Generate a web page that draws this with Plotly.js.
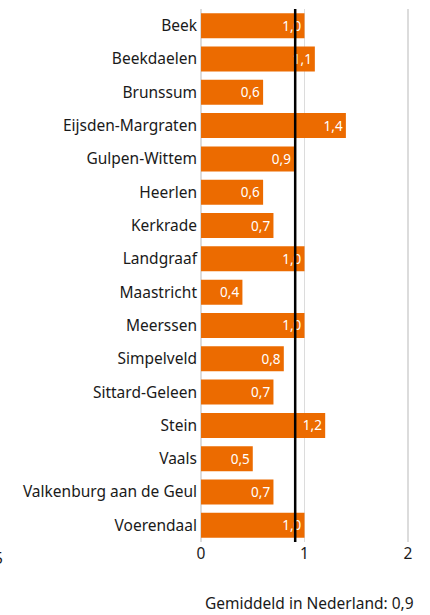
<!DOCTYPE html>
<html><head><meta charset="utf-8">
<script src="https://cdn.plot.ly/plotly-3.0.1.min.js"></script>
<style>html,body{margin:0;padding:0;background:#fff}#c{width:430px;height:615px}</style>
</head><body><div id="c"></div>
<script>
const categories = ["Beek","Beekdaelen","Brunssum","Eijsden-Margraten","Gulpen-Wittem","Heerlen","Kerkrade","Landgraaf","Maastricht","Meerssen","Simpelveld","Sittard-Geleen","Stein","Vaals","Valkenburg aan de Geul","Voerendaal"];
const values = [1.0,1.1,0.6,1.4,0.9,0.6,0.7,1.0,0.4,1.0,0.8,0.7,1.2,0.5,0.7,1.0];
const average = 0.91;
const xTicks = [0,1,2];
const fmt = v => v.toFixed(1).replace('.', ',');
const font = "'Noto Sans', 'Open Sans', sans-serif";

Plotly.newPlot('c', [{
  type: 'bar', orientation: 'h',
  y: categories, x: values,
  text: values.map(fmt), textposition: 'inside', insidetextanchor: 'end',
  textfont: {color: '#ffffff', size: 13.5, family: font},
  marker: {color: '#ec6b00'}, width: 0.75, hoverinfo: 'none',
  cliponaxis: false
}], {
  width: 430, height: 615,
  margin: {l: 200, r: 21, t: 9, b: 73},
  paper_bgcolor: '#fff', plot_bgcolor: '#fff',
  showlegend: false,
  font: {family: font, size: 15.5, color: '#1a1a1a'},
  xaxis: {range: [-0.01, 2.01], tickvals: xTicks, ticktext: xTicks.map(String), showgrid: true, gridcolor: '#dcdcdc', gridwidth: 1.5,
          zeroline: false, ticks: '', tickfont: {size: 15.5}, fixedrange: true},
  yaxis: {autorange: 'reversed', ticks: '', showgrid: false, zeroline: false, tickfont: {size: 15.5}, ticklabelstandoff: 2},
  shapes: [{type: 'line', xref: 'x', yref: 'paper', x0: average, x1: average, y0: 0, y1: 1, line: {color: '#000', width: 2.5}}],
  annotations: [
    {xref: 'paper', yref: 'paper', x: 1, xshift: 7, y: 0, yshift: -74, xanchor: 'right', yanchor: 'bottom', showarrow: false,
     text: 'Gemiddeld in Nederland: ' + fmt(average), font: {size: 15.5, color: '#1a1a1a'}},
    {xref: 'paper', yref: 'paper', x: 0, xshift: -202, y: 0, yshift: -16, xanchor: 'center', yanchor: 'middle', showarrow: false,
     text: '5', font: {size: 15.5, color: '#1a1a1a'}}
  ]
}, {displayModeBar: false, staticPlot: true});
</script></body></html>
